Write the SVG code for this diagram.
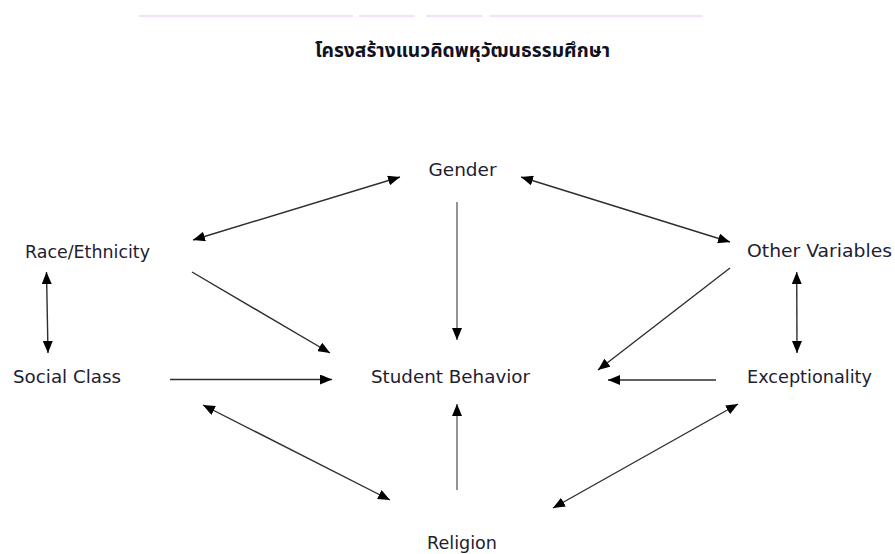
<svg xmlns="http://www.w3.org/2000/svg" width="895" height="554" viewBox="0 0 895 554">
<style>
.lbl{font-family:"DejaVu Sans","Liberation Sans",sans-serif;font-size:17.5px;fill:#1e2030}
.title{font-family:"Noto Sans Thai","Noto Sans","DejaVu Sans",sans-serif;font-size:20px;font-weight:bold;fill:#111122}
.c{stroke:#2e2e2e;stroke-width:1.4;fill:none}
.g{stroke:#7a7a7a;stroke-width:1.6;fill:none}
.bi{marker-start:url(#ah);marker-end:url(#ah)}
.one{marker-end:url(#ah)}
.pink{stroke:#f0d6f8;stroke-width:1.3}
</style>
<defs>
<marker id="ah" viewBox="0 0 12 10" refX="12" refY="5" markerWidth="12" markerHeight="10" markerUnits="userSpaceOnUse" orient="auto-start-reverse">
<path d="M0,0 L12,5 L0,10 z" fill="#000"/>
</marker>
</defs>
<rect width="895" height="554" fill="#fff"/>
<g id="header">
<line class="pink" x1="139" y1="16" x2="353" y2="16"/>
<line class="pink" x1="359" y1="16" x2="415" y2="16"/>
<line class="pink" x1="426" y1="16" x2="482" y2="16"/>
<line class="pink" x1="489" y1="16" x2="703" y2="16"/>
<text class="title" x="315" y="57" textLength="295" lengthAdjust="spacingAndGlyphs">โครงสร้างแนวคิดพหุวัฒนธรรมศึกษา</text>
</g>
<g id="connectors">
<line class="c bi" x1="400" y1="177" x2="193" y2="240"/>
<line class="c bi" x1="521" y1="177" x2="730" y2="242"/>
<line class="g one" x1="457" y1="202" x2="457" y2="340"/>
<line class="c one" x1="192" y1="272" x2="330" y2="353"/>
<line class="c bi" x1="46.5" y1="272" x2="48" y2="353"/>
<line class="c one" x1="170" y1="379.5" x2="332" y2="379.5"/>
<line class="c one" x1="730" y1="268" x2="598" y2="370"/>
<line class="c bi" x1="796.7" y1="272" x2="797" y2="353"/>
<line class="c one" x1="716" y1="380" x2="608" y2="380"/>
<line class="c bi" x1="203" y1="405" x2="390" y2="500"/>
<line class="g one" x1="457" y1="490" x2="457" y2="404"/>
<line class="c bi" x1="738" y1="404" x2="553" y2="508"/>
</g>
<g id="gender"><text class="lbl" x="428.5" y="176" textLength="68" lengthAdjust="spacingAndGlyphs">Gender</text></g>
<g id="race"><text class="lbl" x="25" y="258" textLength="125" lengthAdjust="spacingAndGlyphs">Race/Ethnicity</text></g>
<g id="other"><text class="lbl" x="747" y="257" textLength="145" lengthAdjust="spacingAndGlyphs">Other Variables</text></g>
<g id="social"><text class="lbl" x="13" y="383" textLength="108" lengthAdjust="spacingAndGlyphs">Social Class</text></g>
<g id="student"><text class="lbl" x="371" y="383" textLength="159" lengthAdjust="spacingAndGlyphs">Student Behavior</text></g>
<g id="exceptionality"><text class="lbl" x="747" y="383" textLength="125" lengthAdjust="spacingAndGlyphs">Exceptionality</text></g>
<g id="religion"><text class="lbl" x="427" y="549" textLength="70" lengthAdjust="spacingAndGlyphs">Religion</text></g>
</svg>
